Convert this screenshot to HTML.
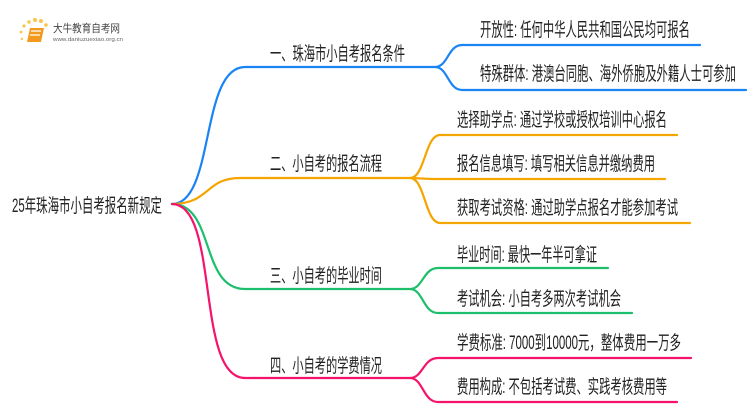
<!DOCTYPE html>
<html><head><meta charset="utf-8"><style>
html,body{margin:0;padding:0;background:#fff;width:750px;height:410px;overflow:hidden}
text{font-family:"Liberation Sans","Noto Sans CJK SC",sans-serif;fill:#222;font-size:19px}
</style></head><body>
<svg width="750" height="410" viewBox="0 0 750 410" xmlns="http://www.w3.org/2000/svg">
<g>
<circle cx="24" cy="26" r="1.6" fill="#f7c64a"/><circle cx="29" cy="22" r="1.8" fill="#f7c64a"/><circle cx="35" cy="20" r="2" fill="#f7c64a"/><circle cx="41" cy="21" r="2" fill="#f7c64a"/><circle cx="46" cy="25" r="1.8" fill="#f7c64a"/><circle cx="21" cy="32" r="1.4" fill="#f7c64a"/><circle cx="22" cy="39" r="1.2" fill="#f7c64a"/>
<path d="M30 28 L44 28 L41 42 L27 42 Z" fill="#f39a1e"/>
<path d="M31 31 L41 31 M30 35 L40 35" stroke="#fff" stroke-width="1.2"/>
<text x="53" y="32" style="font-size:11px;fill:#444" textLength="67" lengthAdjust="spacingAndGlyphs">大牛教育自考网</text>
<text x="53" y="41" style="font-size:5px;fill:#666" textLength="70" lengthAdjust="spacingAndGlyphs">www.daniuzuexiao.org.cn</text>
</g>
<g fill="none" stroke-width="2.2" stroke-linecap="round">
<path d="M172 204 C215 204 200 67 245 67 L435 67" stroke="#1a84f5"/>
<path d="M435 67 C448 67 448 45 462 45 L700 45 M435 67 C448 67 448 90 462 90 L746 90" stroke="#1a84f5"/>
<path d="M172 204 C210 204 205 178 240 178 L410 178" stroke="#f5a500"/>
<path d="M410 178 C425 178 425 135 440 135 L677 135 M410 178 C420 178 420 179 440 179 L665 179 M410 178 C425 178 425 223 440 223 L690 223" stroke="#f5a500"/>
<path d="M172 204 C215 204 200 289 245 289 L410 289" stroke="#1dbe6c"/>
<path d="M410 289 C423 289 423 268 438 268 L608 268 M410 289 C423 289 423 313 438 313 L632 313" stroke="#1dbe6c"/>
<path d="M172 204 C220 204 195 378 245 378 L410 378" stroke="#f5136b"/>
<path d="M410 378 C423 378 423 358 438 358 L691 358 M410 378 C423 378 423 402 438 402 L677 402" stroke="#f5136b"/>
</g>
<text x="12" y="212" textLength="150" lengthAdjust="spacingAndGlyphs">25年珠海市小自考报名新规定</text>
<text x="270" y="60" textLength="135" lengthAdjust="spacingAndGlyphs">一、珠海市小自考报名条件</text>
<text x="270" y="170" textLength="112" lengthAdjust="spacingAndGlyphs">二、小自考的报名流程</text>
<text x="270" y="282" textLength="112" lengthAdjust="spacingAndGlyphs">三、小自考的毕业时间</text>
<text x="270" y="372" textLength="112" lengthAdjust="spacingAndGlyphs">四、小自考的学费情况</text>
<text x="480" y="36" textLength="210" lengthAdjust="spacingAndGlyphs">开放性: 任何中华人民共和国公民均可报名</text>
<text x="480" y="80" textLength="256" lengthAdjust="spacingAndGlyphs">特殊群体: 港澳台同胞、海外侨胞及外籍人士可参加</text>
<text x="457" y="126" textLength="210" lengthAdjust="spacingAndGlyphs">选择助学点: 通过学校或授权培训中心报名</text>
<text x="457" y="170" textLength="198" lengthAdjust="spacingAndGlyphs">报名信息填写: 填写相关信息并缴纳费用</text>
<text x="457" y="214" textLength="221" lengthAdjust="spacingAndGlyphs">获取考试资格: 通过助学点报名才能参加考试</text>
<text x="457" y="261" textLength="140" lengthAdjust="spacingAndGlyphs">毕业时间: 最快一年半可拿证</text>
<text x="457" y="305" textLength="164" lengthAdjust="spacingAndGlyphs">考试机会: 小自考多两次考试机会</text>
<text x="457" y="349" textLength="224" lengthAdjust="spacingAndGlyphs">学费标准: 7000到10000元，整体费用一万多</text>
<text x="457" y="393" textLength="210" lengthAdjust="spacingAndGlyphs">费用构成: 不包括考试费、实践考核费用等</text>
</svg>
</body></html>
